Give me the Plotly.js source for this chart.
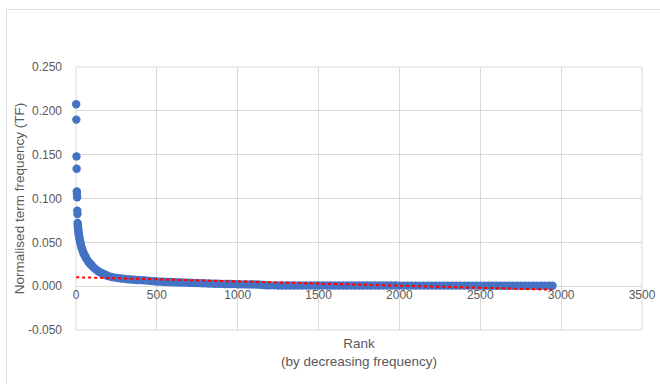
<!DOCTYPE html>
<html>
<head>
<meta charset="utf-8">
<script src="https://cdn.plot.ly/plotly-3.0.1.min.js"></script>
<style>html,body{margin:0;padding:0;background:#fff;}#chart{width:660px;height:384px;}</style>
</head>
<body>
<div id="chart"></div>
<script>
// Rank (by decreasing frequency)
const ranks = [
  1,2,3,4,5,6,7,8,9,
  10,11,12,13,14,15,16,18,20,22,24,26,28,30,33,36,40,44,48,52,56,60,65,70,75,80,85,90,95,
  100,110,120,130,140,150,160,170,180,190,200,220,240,260,280,300,320,340,360,380,400,420,440,460,480,
  500,520,540,560,580,600,620,640,660,680,700,720,740,760,780,800,820,840,860,880,900,920,940,960,980,
  1000,1020,1040,1060,1080,1100,1120,1140,1160,1180,
  1200,1225,1250,1275,1300,1325,1350,1375,1400,1425,1450,1475,
  1500,1525,1550,1575,1600,1625,1650,1675,1700,1725,1750,1775,1800,1825,1850,1875,1900,1925,1950,1975,
  2000,2025,2050,2075,2100,2125,2150,2175,2200,2225,2250,2275,2300,2325,2350,2375,2400,2425,2450,2475,
  2500,2525,2550,2575,2600,2625,2650,2675,2700,2725,2750,2775,2800,2825,2850,2875,2900,2925,2947
];
// Normalised term frequency (TF) for each rank
const tf = [
  0.2075,0.190,0.148,0.134,0.108,0.105,0.1015,0.086,0.0824,
  0.072,0.070,0.068,0.066,0.064,0.062,0.060,0.058,0.056,0.054,0.052,0.050,0.049,0.047,0.045,0.043,0.041,0.039,0.037,0.036,0.034,0.033,0.031,0.030,0.028,0.027,0.026,0.025,0.024,
  0.023,0.021,0.0195,0.018,0.0168,0.0157,0.0147,0.0138,0.0130,0.0122,0.0115,0.0105,0.0098,0.0092,0.0087,0.0083,0.0079,0.0076,0.0073,0.0071,0.0069,0.0067,0.0063,0.0060,0.0057,
  0.0054,0.0052,0.0050,0.0048,0.0047,0.0045,0.0044,0.0042,0.0041,0.0040,0.0039,0.0037,0.0036,0.0035,0.0034,0.0032,0.0031,0.0029,0.0028,0.0027,0.0026,0.0025,0.0025,0.0024,0.0023,
  0.0022,0.0021,0.0021,0.0020,0.0020,0.0020,0.0019,0.0017,0.0013,0.0010,
  0.0009,0.0009,0.0008,0.0008,0.0008,0.0008,0.0008,0.0008,0.0008,0.0008,0.0008,0.0008,
  0.0007,0.0007,0.0007,0.0007,0.0007,0.0007,0.0007,0.0007,0.0007,0.0007,0.0007,0.0007,0.0007,0.0007,0.0007,0.0007,0.0007,0.0007,0.0007,0.0007,
  0.0006,0.0006,0.0006,0.0006,0.0006,0.0006,0.0006,0.0006,0.0006,0.0006,0.0006,0.0006,0.0006,0.0006,0.0006,0.0006,0.0006,0.0006,0.0006,0.0006,
  0.0005,0.0005,0.0005,0.0005,0.0005,0.0005,0.0005,0.0005,0.0005,0.0005,0.0005,0.0005,0.0005,0.0005,0.0005,0.0005,0.0004,0.0004,0.0004
];
// Linear trendline end points
const trendX = [1, 2945];
const trendY = [0.0102, -0.0040];
// Axis ticks
const xTicks = [0,500,1000,1500,2000,2500,3000,3500];
const yTicks = [-0.05,0,0.05,0.1,0.15,0.2,0.25];
const yTickText = ['-0.050','0.000','0.050','0.100','0.150','0.200','0.250'];

const grey = '#595959';
const gridc = '#d9d9d9';
const fontFam = 'Liberation Sans, Arial, sans-serif';

const traces = [
  {x: ranks, y: tf, type: 'scatter', mode: 'markers', name: 'TF',
   marker: {color: '#4472c4', size: 8.4}, cliponaxis: false},
  {x: trendX, y: trendY, type: 'scatter', mode: 'lines', name: 'Linear',
   line: {color: '#ff0000', width: 2, dash: 'dot'}}
];

const layout = {
  width: 660, height: 384,
  margin: {l: 76, r: 18, t: 67, b: 54, pad: 0},
  paper_bgcolor: '#ffffff', plot_bgcolor: '#ffffff',
  showlegend: false,
  font: {family: fontFam, size: 12, color: grey},
  xaxis: {
    range: [0, 3500], tickvals: xTicks, ticktext: xTicks.map(String),
    showgrid: true, gridcolor: gridc, gridwidth: 1, zeroline: false,
    showline: false, ticks: '', anchor: 'free', position: 1/6,
    tickfont: {family: fontFam, size: 12, color: grey},
    title: {text: 'Rank<br>(by decreasing frequency)', font: {family: fontFam, size: 13.5, color: grey}, standoff: 37}
  },
  yaxis: {
    range: [-0.05, 0.25], tickvals: yTicks, ticktext: yTickText,
    showgrid: true, gridcolor: gridc, gridwidth: 1,
    zeroline: true, zerolinecolor: gridc, zerolinewidth: 1,
    showline: false, ticks: '', ticklabelstandoff: 13,
    tickfont: {family: fontFam, size: 12, color: grey},
    title: {text: 'Normalised term frequency (TF)', font: {family: fontFam, size: 13.5, color: grey}, standoff: 0}
  },
  shapes: [
    {type: 'rect', xref: 'paper', yref: 'paper', x0: 0, x1: 1, y0: 0, y1: 1,
     line: {color: gridc, width: 1}, layer: 'below'},
    {type: 'rect', xref: 'paper', yref: 'paper', x0: -0.123, x1: 1.2, y0: -0.4, y1: 1.219,
     line: {color: '#d9d9d9', width: 1}, layer: 'below'}
  ]
};

Plotly.newPlot('chart', traces, layout, {staticPlot: true, displayModeBar: false});
</script>
</body>
</html>
